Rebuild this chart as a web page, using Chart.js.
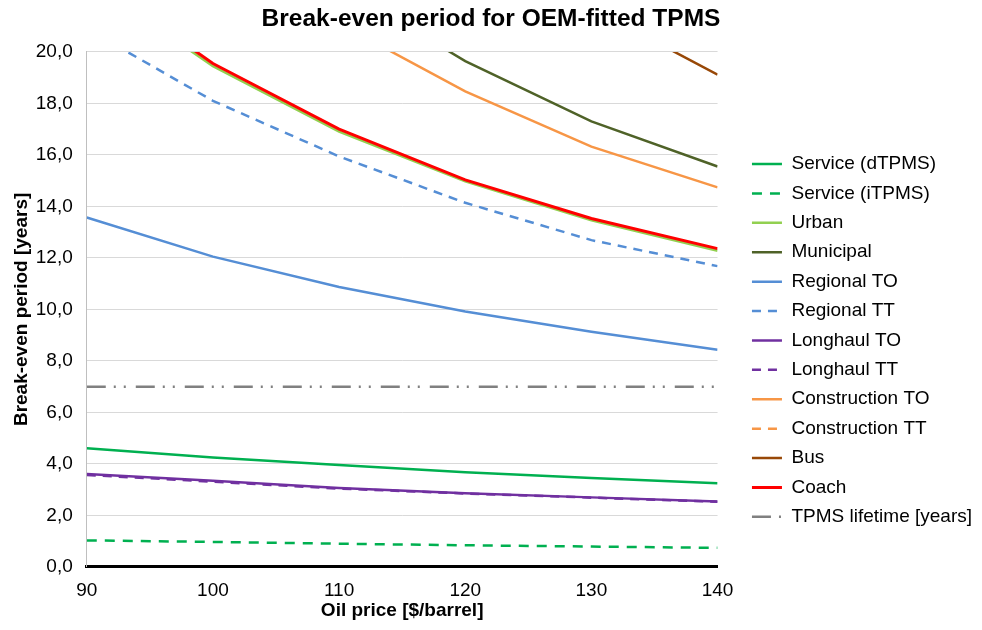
<!DOCTYPE html>
<html>
<head>
<meta charset="utf-8">
<script src="https://cdn.jsdelivr.net/npm/chart.js@4.4.1/dist/chart.umd.min.js"></script>
<style>
  html, body { margin: 0; padding: 0; background: #fff; }
  #wrap { width: 982px; height: 630px; }
</style>
</head>
<body>
<div id="wrap"><canvas id="c" width="982" height="630"></canvas></div>
<script>
// ---- Data ----
const oilPrice = ['90', '100', '110', '120', '130', '140'];

const serviceDTPMS   = [4.61, 4.25, 3.96, 3.68, 3.45, 3.25];
const serviceITPMS   = [1.03, 0.97, 0.90, 0.84, 0.79, 0.74];
const urban          = [22.8, 19.45, 16.90, 14.97, 13.46, 12.28];
const municipal      = [32.4, 26.7, 22.6, 19.64, 17.30, 15.55];
const regionalTO     = [13.57, 12.05, 10.87, 9.92, 9.13, 8.43];
const regionalTT     = [20.9, 18.10, 15.94, 14.14, 12.69, 11.68];
const longhaulTO     = [3.61, 3.35, 3.06, 2.86, 2.70, 2.54];
const longhaulTT     = [3.57, 3.31, 3.04, 2.85, 2.69, 2.53];
const constructionTO = [29.8, 24.7, 21.1, 18.47, 16.32, 14.74];
const constructionTT = [null, null, null, null, null, null];
const bus            = [47.0, 36.5, 29.7, 25.1, 21.7, 19.12];
const coach          = [23.0, 19.55, 17.00, 15.03, 13.53, 12.36];
const tpmsLifetime   = [7, 7, 7, 7, 7, 7];

const seriesLabels = ['Service (dTPMS)', 'Service (iTPMS)', 'Urban', 'Municipal',
  'Regional TO', 'Regional TT', 'Longhaul TO', 'Longhaul TT',
  'Construction TO', 'Construction TT', 'Bus', 'Coach', 'TPMS lifetime [years]'];
const seriesData = [serviceDTPMS, serviceITPMS, urban, municipal, regionalTO, regionalTT,
  longhaulTO, longhaulTT, constructionTO, constructionTT, bus, coach, tpmsLifetime];

const yMin = 0, yMax = 20, yStep = 2;
const chartTitle = 'Break-even period for OEM-fitted TPMS';
const xTitle = 'Oil price [$/barrel]';
const yTitle = 'Break-even period [years]';

// ---- Styles ----
const styles = [
  { color: '#00B050', dash: [] },
  { color: '#00B050', dash: [10, 8] },
  { color: '#92D050', dash: [] },
  { color: '#4F6228', dash: [] },
  { color: '#558ED5', dash: [] },
  { color: '#558ED5', dash: [9, 7] },
  { color: '#7030A0', dash: [] },
  { color: '#7030A0', dash: [9, 7] },
  { color: '#F79646', dash: [] },
  { color: '#F79646', dash: [9, 7] },
  { color: '#984807', dash: [] },
  { color: '#FF0000', dash: [], width: 3 },
  { color: '#808080', dash: [19, 8, 2, 8, 2, 10] }
];

Chart.defaults.font.family = '"Liberation Sans", Arial, sans-serif';
Chart.defaults.color = '#000';

const datasets = seriesLabels.map((label, i) => ({
  label: label,
  data: seriesData[i],
  borderColor: styles[i].color,
  backgroundColor: styles[i].color,
  borderWidth: styles[i].width || 2.5,
  borderDash: styles[i].dash,
  borderCapStyle: 'butt',
  pointRadius: 0,
  pointHoverRadius: 0,
  tension: 0,
  fill: false,
  order: -i,
  clip: 0
}));

new Chart(document.getElementById('c'), {
  type: 'line',
  data: { labels: oilPrice, datasets: datasets },
  options: {
    responsive: false,
    animation: false,
    layout: { padding: { left: 0, right: 0, top: 0, bottom: 1.5 } },
    plugins: {
      title: {
        display: true, text: chartTitle, color: '#000',
        font: { size: 24.5, weight: 'bold' },
        padding: { top: 5, bottom: 17.5 }
      },
      legend: {
        position: 'right', align: 'center', maxWidth: 320,
        title: { display: true, text: '', font: { size: 12 }, padding: { top: 19, bottom: 19 } },
        labels: {
          usePointStyle: true, pointStyle: 'line', pointStyleWidth: 30,
          boxHeight: 19, font: { size: 19 }, color: '#000', padding: 10.4,
          generateLabels: (chart) => {
            const items = Chart.defaults.plugins.legend.labels.generateLabels(chart);
            items.forEach(it => {
              const ds = chart.data.datasets[it.datasetIndex];
              it.lineDash = ds.borderDash;
              it.lineWidth = ds.borderWidth;
              it.strokeStyle = ds.borderColor;
              it.fillStyle = ds.borderColor;
              it.lineCap = 'butt';
            });
            return items;
          },
          sort: (a, b) => a.datasetIndex - b.datasetIndex
        }
      },
      tooltip: { enabled: false }
    },
    scales: {
      x: {
        type: 'category', offset: false,
        grid: { display: false, drawTicks: false },
        border: { display: true, color: '#000', width: 3 },
        ticks: { font: { size: 19 }, color: '#000', padding: 12, maxRotation: 0, autoSkip: false },
        title: { display: true, text: xTitle, color: '#000', font: { size: 19, weight: 'bold' }, padding: { top: -14, bottom: 6 } }
      },
      y: {
        min: yMin, max: yMax,
        ticks: {
          stepSize: yStep, font: { size: 19 }, color: '#000', padding: 14,
          callback: v => Number(v).toFixed(1).replace('.', ',')
        },
        grid: { color: '#d9d9d9', lineWidth: 1, drawTicks: false },
        border: { display: true, color: '#bfbfbf', width: 1 },
        title: { display: true, text: yTitle, color: '#000', font: { size: 19, weight: 'bold' }, padding: { top: 10, bottom: -11 } }
      },
      gap: {
        type: 'linear', position: 'right', display: true,
        grid: { display: false, drawTicks: false },
        border: { display: false },
        ticks: { display: false },
        afterFit: s => { s.width = 24; }
      }
    }
  }
});
</script>
</body>
</html>
